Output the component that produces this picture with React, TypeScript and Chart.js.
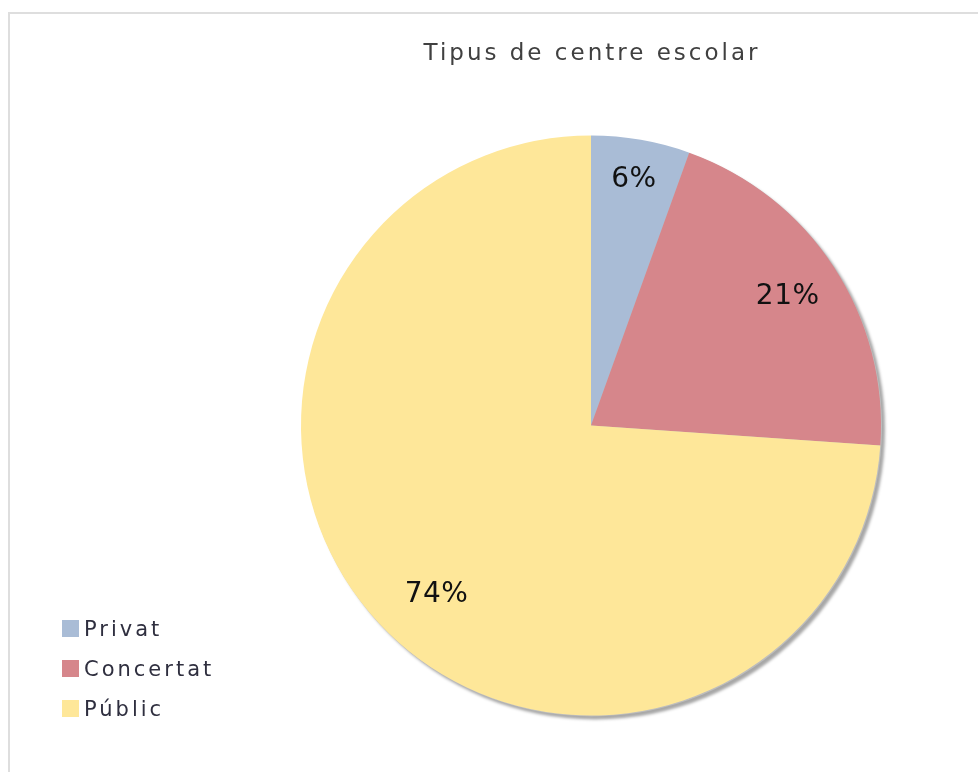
import React, { useEffect, useRef } from "react";
import { Chart, registerables } from "chart.js";

Chart.register(...registerables);

const TITLE = "Tipus de centre escolar";
const categories = ["Privat", "Concertat", "Públic"];
const values = [5.5, 20.6, 73.9];
const valueLabels = ["6%", "21%", "74%"];
const colors = ["#a9bcd6", "#d6868b", "#fee799"];

const framePlugin = {
  id: "frame",
  beforeDraw(chart: any) {
    const ctx = chart.ctx;
    ctx.save();
    ctx.fillStyle = "#ffffff";
    ctx.fillRect(0, 0, chart.width, chart.height);
    ctx.strokeStyle = "#dedede";
    ctx.lineWidth = 2;
    ctx.beginPath();
    ctx.moveTo(9, chart.height);
    ctx.lineTo(9, 13);
    ctx.lineTo(chart.width, 13);
    ctx.stroke();
    // title
    ctx.fillStyle = "#404040";
    ctx.font = "23px 'DejaVu Sans'";
    (ctx as any).letterSpacing = "3px";
    ctx.textAlign = "center";
    ctx.textBaseline = "alphabetic";
    ctx.fillText(TITLE, 592, 60);
    ctx.restore();
  },
};

const shadowPlugin = {
  id: "pieShadow",
  beforeDatasetsDraw(chart: any) {
    const arc = chart.getDatasetMeta(0).data[0];
    if (!arc) return;
    const ctx = chart.ctx;
    ctx.save();
    ctx.shadowColor = "rgba(0,0,0,0.35)";
    ctx.shadowBlur = 3;
    ctx.shadowOffsetX = 3;
    ctx.shadowOffsetY = 3;
    ctx.fillStyle = "#bdbdbd";
    ctx.beginPath();
    ctx.arc(arc.x + 1, arc.y + 1, arc.outerRadius, 0, Math.PI * 2);
    ctx.fill();
    ctx.restore();
  },
};

const labelRadius = [0.86, 0.81, 0.79];
const labelAngleShift = [0, 0, -0.08];

const labelsPlugin = {
  id: "sliceLabels",
  afterDatasetsDraw(chart: any) {
    const ctx = chart.ctx;
    const meta = chart.getDatasetMeta(0);
    ctx.save();
    ctx.fillStyle = "#111111";
    ctx.font = "28px 'DejaVu Sans'";
    (ctx as any).letterSpacing = "0.5px";
    ctx.textAlign = "center";
    ctx.textBaseline = "middle";
    meta.data.forEach((arc: any, i: number) => {
      const mid = (arc.startAngle + arc.endAngle) / 2 + labelAngleShift[i];
      const r = arc.outerRadius * labelRadius[i];
      ctx.fillText(valueLabels[i], arc.x + Math.cos(mid) * r, arc.y + Math.sin(mid) * r);
    });
    ctx.restore();
  },
};

const legendPlugin = {
  id: "customLegend",
  afterDraw(chart: any) {
    const ctx = chart.ctx;
    ctx.save();
    ctx.font = "21px 'DejaVu Sans'";
    (ctx as any).letterSpacing = "3px";
    ctx.textBaseline = "alphabetic";
    ctx.textAlign = "left";
    categories.forEach((c, i) => {
      const base = 636 + i * 40;
      ctx.fillStyle = colors[i];
      ctx.fillRect(62, base - 16, 17, 17);
      ctx.fillStyle = "#2f2f3f";
      ctx.fillText(c, 84, base);
    });
    ctx.restore();
  },
};

export default function App() {
  const ref = useRef<HTMLCanvasElement>(null);
  useEffect(() => {
    if (!ref.current) return;
    const chart = new Chart(ref.current, {
      type: "pie",
      data: {
        labels: categories,
        datasets: [
          {
            data: values,
            backgroundColor: colors,
            borderWidth: 0,
          },
        ],
      },
      options: {
        animation: false,
        responsive: false,
        devicePixelRatio: 1,
        layout: { padding: { left: 301, right: 97, top: 135, bottom: 56 } },
        plugins: {
          legend: { display: false },
          title: { display: false },
          tooltip: { enabled: false },
        },
      },
      plugins: [framePlugin, shadowPlugin, labelsPlugin, legendPlugin],
    });
    return () => chart.destroy();
  }, []);
  return (
    <div style={{ position: "fixed", left: 0, top: 0, width: 978, height: 772, background: "#fff" }}>
      <canvas ref={ref} width={978} height={772} style={{ display: "block", width: 978, height: 772 }} />
    </div>
  );
}
